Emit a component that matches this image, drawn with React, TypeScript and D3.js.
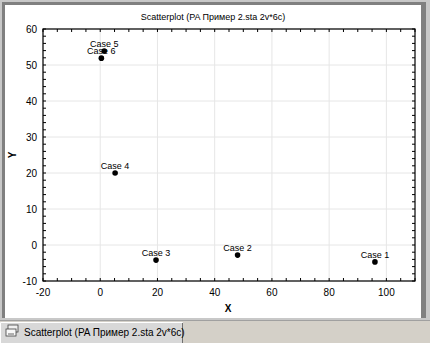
import React from "react";
import * as d3 from "d3";

const title = "Scatterplot (PA Пример 2.sta 2v*6c)";
const caseLabels = ["Case 1", "Case 2", "Case 3", "Case 4", "Case 5", "Case 6"];
const xValues = [96, 48, 19.5, 5.2, 1.4, 0.4];
const yValues = [-4.7, -2.8, -4.2, 20, 53.9, 51.9];
const xTicks = [-20, 0, 20, 40, 60, 80, 100];
const yTicks = [-10, 0, 10, 20, 30, 40, 50, 60];
const xDomain = [-20, 110];
const yDomain = [-10, 60];

export default function App() {
  const W = 430, H = 343;
  const left = 43, right = 415, top = 29, bottom = 281;
  const x = d3.scaleLinear().domain(xDomain).range([left, right]);
  const y = d3.scaleLinear().domain(yDomain).range([bottom, top]);
  const xMinor = d3.range(xDomain[0], xDomain[1] + 0.001, 5);
  const yMinor = d3.range(yDomain[0], yDomain[1] + 0.001, 2);
  const font = "Arial, 'Liberation Sans', sans-serif";
  const pts = caseLabels.map((c, i) => ({ c, xv: xValues[i], yv: yValues[i] }));
  return (
    <svg width={W} height={H} style={{ position: "absolute", left: 0, top: 0, display: "block" }}>
      <rect x={0} y={0} width={W} height={H} fill="#d4d0c8" />
      {/* window frame */}
      <rect x={0} y={0} width={W} height={320} fill="#c8c8c8" />
      <rect x={2} y={2} width={424} height={316} fill="#808080" />
      <rect x={5} y={5} width={416} height={313} fill="#ffffff" />
      <line x1={0} y1={320.5} x2={W} y2={320.5} stroke="#a0a0a0" />
      {/* tab */}
      <path d="M0.5,343 L0.5,322.5 L182.5,322.5 L182.5,343" fill="#d8d8d8" stroke="#ffffff" />
      <line x1={182.5} y1={323} x2={182.5} y2={343} stroke="#707070" />
      <g transform="translate(6,325)">
        <rect x={2} y={0} width={10} height={7} fill="#f0f0f0" stroke="#404040" strokeWidth={0.8} />
        <rect x={0} y={4} width={10} height={7} fill="#f8f8f8" stroke="#404040" strokeWidth={0.8} />
        <line x1={2} y1={9} x2={8} y2={9} stroke="#404040" strokeWidth={0.8} />
      </g>
      <text x={24} y={336} fontFamily={font} fontSize={10} fill="#000">{title}</text>
      {/* title */}
      <text x={213} y={20} textAnchor="middle" fontFamily={font} fontSize={9} fill="#000">{title}</text>
      {/* grid */}
      {xTicks.map((t) => (
        <line key={"gx" + t} x1={x(t)} x2={x(t)} y1={top} y2={bottom} stroke="#e6e6e6" />
      ))}
      {yTicks.map((t) => (
        <line key={"gy" + t} x1={left} x2={right} y1={y(t)} y2={y(t)} stroke="#e6e6e6" />
      ))}
      {/* minor ticks */}
      {xMinor.map((t) => (
        <g key={"mx" + t} stroke="#000">
          <line x1={x(t)} x2={x(t)} y1={bottom} y2={bottom - 3} />
          <line x1={x(t)} x2={x(t)} y1={top} y2={top + 3} />
        </g>
      ))}
      {yMinor.map((t) => (
        <g key={"my" + t} stroke="#000">
          <line x1={left} x2={left + 3} y1={y(t)} y2={y(t)} />
          <line x1={right} x2={right - 3} y1={y(t)} y2={y(t)} />
        </g>
      ))}
      <rect x={left} y={top} width={right - left} height={bottom - top} fill="none" stroke="#000" strokeWidth={1.2} />
      {/* tick labels */}
      {xTicks.map((t) => (
        <text key={"tx" + t} x={x(t)} y={296} textAnchor="middle" fontFamily={font} fontSize={10} fill="#000">{t}</text>
      ))}
      {yTicks.map((t) => (
        <text key={"ty" + t} x={37} y={y(t) + 3.5} textAnchor="end" fontFamily={font} fontSize={10} fill="#000">{t}</text>
      ))}
      {/* axis titles */}
      <text x={228} y={312} textAnchor="middle" fontFamily={font} fontSize={10} fontWeight="bold" fill="#000">X</text>
      <text transform="translate(16,155) rotate(-90)" textAnchor="middle" fontFamily={font} fontSize={10} fontWeight="bold" fill="#000">Y</text>
      {/* points */}
      {pts.map((p) => (
        <g key={p.c}>
          <circle cx={x(p.xv)} cy={y(p.yv)} r={2.8} fill="#000" />
          <text x={x(p.xv)} y={y(p.yv) - 4} textAnchor="middle" fontFamily={font} fontSize={9} fill="#000">{p.c}</text>
        </g>
      ))}
    </svg>
  );
}
